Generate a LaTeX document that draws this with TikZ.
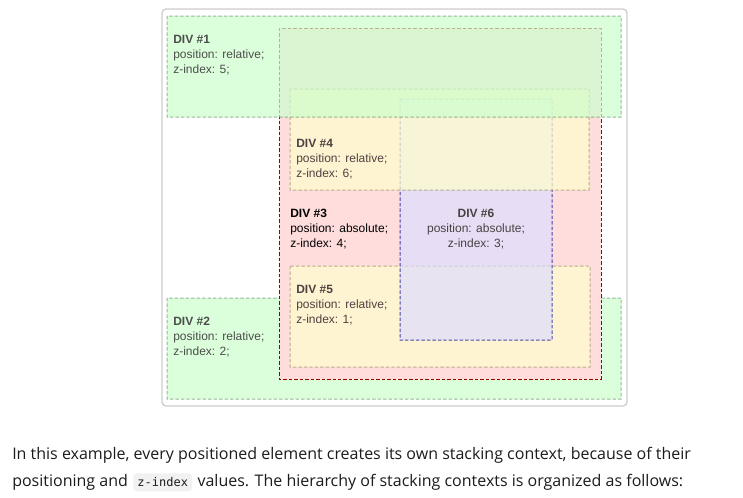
\documentclass[tikz,border=0pt]{standalone}
\usepackage{fontspec}
\setmainfont{Liberation Sans}
\setmonofont{DejaVu Sans Mono}
\newfontfamily\pagefont{Open Sans}
\definecolor{greenbg}{HTML}{CCFFCC}
\definecolor{greenline}{HTML}{669966}
\definecolor{redbg}{HTML}{FFDDDD}
\definecolor{redline}{HTML}{990000}
\definecolor{yellowbg}{HTML}{FFFFCC}
\definecolor{yellowline}{HTML}{999966}
\definecolor{bluebg}{HTML}{DDDDFF}
\definecolor{blueline}{HTML}{000099}
\definecolor{framegray}{HTML}{CCCCCC}
\definecolor{codebg}{HTML}{F2F1F1}
\definecolor{pagetext}{HTML}{1B1B1B}

\begin{document}
\begin{tikzpicture}[x=0.75pt,y=-0.75pt,
  box/.style={line width=0.75pt,dash pattern=on 2.6pt off 1.5pt},
  divtext/.style={anchor=base west,inner sep=0pt,font=\fontsize{9}{11}\selectfont},
  divhead/.style={anchor=base west,inner sep=0pt,font=\fontsize{9}{11}\selectfont\bfseries},
  lowtext/.style={anchor=base west,inner sep=0pt,text=pagetext,font=\pagefont\fontsize{12}{14}\selectfont},
  codebox/.style={anchor=base west,fill=codebg,rounded corners=2.5pt,inner xsep=3pt,inner ysep=1.5pt,
    text height=8pt,text depth=2.5pt,text=pagetext,font=\ttfamily\fontsize{9}{10}\selectfont}]
\useasboundingbox (0,0) rectangle (743,497);
\draw[framegray,line width=1pt,rounded corners=3pt] (162,9) rectangle (627,406);

\begin{scope}[transparency group,opacity=0.7]
\filldraw[box,fill=greenbg,draw=greenline] (167,298) rectangle (621,399);
\node[divhead] (head2) at (173,325) {DIV \#2};
\node[divtext] (pos2) at (173,340) {position: relative;};
\node[divtext] (z2) at (173,355) {z-index: 2;};
\end{scope}

\filldraw[box,fill=redbg,draw=redline] (279,28) rectangle (601,379);
\node[divhead] (head3) at (290,217) {DIV \#3};
\node[divtext] (pos3) at (290,232) {position: absolute;};
\node[divtext] (z3) at (290,247) {z-index: 4;};

\begin{scope}[transparency group,opacity=0.7]
\filldraw[box,fill=yellowbg,draw=yellowline] (290,266) rectangle (590,367);
\node[divhead] (head5) at (296,293) {DIV \#5};
\node[divtext] (pos5) at (296,308) {position: relative;};
\node[divtext] (z5) at (296,323) {z-index: 1;};
\end{scope}

\begin{scope}[transparency group,opacity=0.7]
\filldraw[box,fill=bluebg,draw=blueline] (400,99) rectangle (552,340);
\node[divhead,anchor=base] (head6) at (476,217) {DIV \#6};
\node[divtext,anchor=base] (pos6) at (476,232) {position: absolute;};
\node[divtext,anchor=base] (z6) at (476,247) {z-index: 3;};
\end{scope}

\begin{scope}[transparency group,opacity=0.7]
\filldraw[box,fill=yellowbg,draw=yellowline] (290,89) rectangle (589,190);
\node[divhead] (head4) at (296,147) {DIV \#4};
\node[divtext] (pos4) at (296,162) {position: relative;};
\node[divtext] (z4) at (296,177) {z-index: 6;};
\end{scope}

\begin{scope}[transparency group,opacity=0.7]
\filldraw[box,fill=greenbg,draw=greenline] (167,16) rectangle (621,117);
\node[divhead] (head1) at (173,43) {DIV \#1};
\node[divtext] (pos1) at (173,58) {position: relative;};
\node[divtext] (z1) at (173,73) {z-index: 5;};
\end{scope}

\node[lowtext] (para1) at (12,459) {In this example, every positioned element creates its own stacking context, because of their};
\node[lowtext] (para2) at (12,486) {positioning and};
\node[codebox] (code) at ([xshift=3.75pt]para2.base east) {z-index};
\node[lowtext] (para3) at ([xshift=3.75pt]code.base east) {values. The hierarchy of stacking contexts is organized as follows:};
\end{tikzpicture}
\end{document}
